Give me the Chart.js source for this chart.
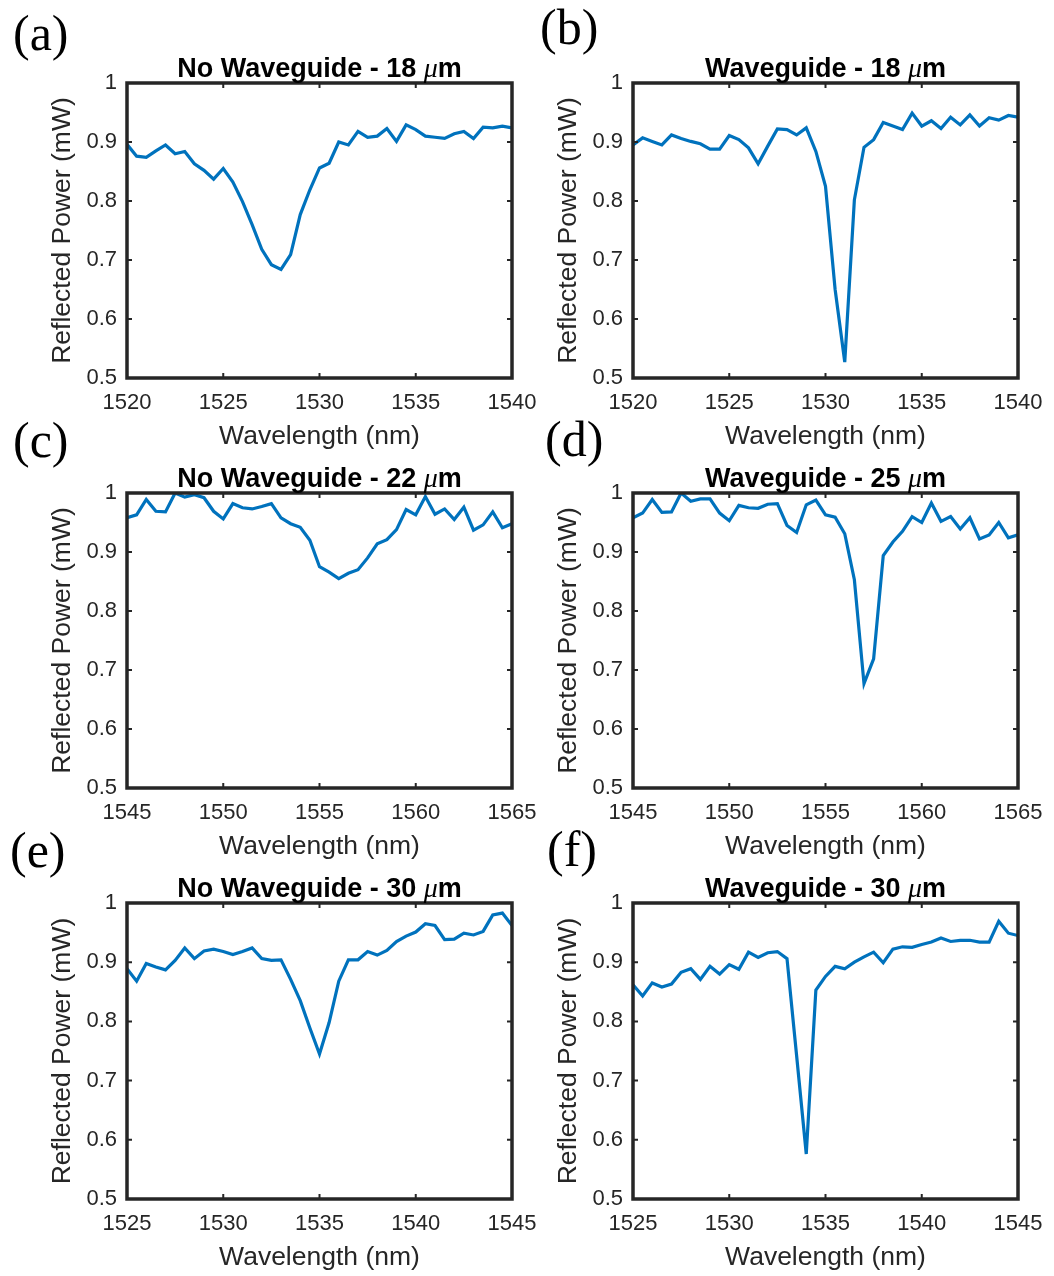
<!DOCTYPE html>
<html>
<head>
<meta charset="utf-8">
<script src="https://cdn.jsdelivr.net/npm/chart.js@4.4.0/dist/chart.umd.min.js"></script>
<style>
  html, body { margin: 0; padding: 0; background: #fff; width: 1054px; height: 1276px; overflow: hidden; }
  body { position: relative; }
  canvas { position: absolute; }
</style>
</head>
<body>
<script>
// Wavelength grids (nm), 0.5 nm steps
const wl1520 = [1520,1520.5,1521,1521.5,1522,1522.5,1523,1523.5,1524,1524.5,1525,1525.5,1526,1526.5,1527,1527.5,1528,1528.5,1529,1529.5,1530,1530.5,1531,1531.5,1532,1532.5,1533,1533.5,1534,1534.5,1535,1535.5,1536,1536.5,1537,1537.5,1538,1538.5,1539,1539.5,1540];
const wl1545 = [1545,1545.5,1546,1546.5,1547,1547.5,1548,1548.5,1549,1549.5,1550,1550.5,1551,1551.5,1552,1552.5,1553,1553.5,1554,1554.5,1555,1555.5,1556,1556.5,1557,1557.5,1558,1558.5,1559,1559.5,1560,1560.5,1561,1561.5,1562,1562.5,1563,1563.5,1564,1564.5,1565];
const wl1525 = [1525,1525.5,1526,1526.5,1527,1527.5,1528,1528.5,1529,1529.5,1530,1530.5,1531,1531.5,1532,1532.5,1533,1533.5,1534,1534.5,1535,1535.5,1536,1536.5,1537,1537.5,1538,1538.5,1539,1539.5,1540,1540.5,1541,1541.5,1542,1542.5,1543,1543.5,1544,1544.5,1545];

// Reflected power (mW)
const noWg18 = [0.896,0.876,0.874,0.885,0.895,0.880,0.884,0.863,0.852,0.837,0.855,0.832,0.799,0.760,0.718,0.692,0.684,0.709,0.777,0.819,0.856,0.864,0.900,0.895,0.918,0.908,0.910,0.923,0.901,0.929,0.921,0.910,0.908,0.906,0.914,0.918,0.906,0.925,0.924,0.927,0.924];
const wg18   = [0.895,0.907,0.901,0.895,0.912,0.906,0.901,0.897,0.888,0.888,0.911,0.904,0.890,0.863,0.893,0.922,0.921,0.912,0.924,0.884,0.825,0.650,0.527,0.802,0.891,0.904,0.933,0.927,0.921,0.949,0.927,0.936,0.923,0.942,0.929,0.946,0.927,0.941,0.937,0.945,0.942];
const noWg22 = [0.958,0.963,0.989,0.969,0.968,1.000,0.993,0.997,0.992,0.969,0.956,0.982,0.975,0.973,0.977,0.982,0.958,0.948,0.942,0.920,0.875,0.866,0.855,0.864,0.870,0.890,0.914,0.921,0.938,0.972,0.963,0.994,0.964,0.973,0.955,0.976,0.937,0.946,0.968,0.941,0.948];
const wg25   = [0.958,0.966,0.989,0.967,0.968,1.000,0.986,0.990,0.990,0.966,0.953,0.979,0.975,0.974,0.981,0.982,0.945,0.933,0.980,0.988,0.963,0.959,0.931,0.853,0.677,0.719,0.894,0.917,0.935,0.960,0.950,0.983,0.952,0.960,0.939,0.958,0.922,0.929,0.950,0.924,0.929];
const noWg30 = [0.889,0.868,0.898,0.892,0.887,0.903,0.924,0.906,0.919,0.922,0.918,0.913,0.918,0.924,0.906,0.903,0.904,0.871,0.835,0.789,0.745,0.798,0.868,0.904,0.904,0.918,0.912,0.920,0.935,0.944,0.951,0.965,0.962,0.938,0.939,0.949,0.946,0.952,0.980,0.983,0.962];
const wg30   = [0.862,0.843,0.865,0.858,0.863,0.883,0.889,0.871,0.893,0.880,0.896,0.888,0.917,0.908,0.916,0.918,0.906,0.742,0.576,0.853,0.876,0.893,0.889,0.900,0.909,0.917,0.899,0.922,0.926,0.925,0.930,0.934,0.941,0.935,0.937,0.937,0.934,0.934,0.969,0.949,0.945];

// Tick values and labels
const xTicks1520 = [1520,1525,1530,1535,1540];
const xTicks1545 = [1545,1550,1555,1560,1565];
const xTicks1525 = [1525,1530,1535,1540,1545];
const yTicks = [0.5,0.6,0.7,0.8,0.9,1];
const yTickLabels = ['0.5','0.6','0.7','0.8','0.9','1'];

// Text
const panelLabels = ['(a)','(b)','(c)','(d)','(e)','(f)'];
const panelTitles = ['No Waveguide - 18 ','Waveguide - 18 ','No Waveguide - 22 ','Waveguide - 25 ','No Waveguide - 30 ','Waveguide - 30 '];
const xTitle = 'Wavelength (nm)';
const yTitle = 'Reflected Power (mW)';

const INK = '#262626';
const SANS = "'Liberation Sans', Arial, Helvetica, sans-serif";
const SERIF = "'Liberation Serif', 'Times New Roman', serif";

// Page geometry of each plotting box
const COLS = [
  { L: 127, R: 512, cx: 0, cw: 545, labelX: [13, 13, 10] },
  { L: 633, R: 1018, cx: 527, cw: 527, labelX: [540, 545, 547] }
];
const ROWS = [
  { T: 83, B: 378, labelY: [50, 44] },
  { T: 493, B: 788, labelY: [457, 456] },
  { T: 903, B: 1199, labelY: [867, 866] }
];
const X_SCALE_H = 76;

const panels = [
  { xs: wl1520, ys: noWg18, xt: xTicks1520 },
  { xs: wl1520, ys: wg18,   xt: xTicks1520 },
  { xs: wl1545, ys: noWg22, xt: xTicks1545 },
  { xs: wl1545, ys: wg25,   xt: xTicks1545 },
  { xs: wl1525, ys: noWg30, xt: xTicks1525 },
  { xs: wl1525, ys: wg30,   xt: xTicks1525 }
];

// Box with inward ticks on all four sides, title and panel letter
const framePlugin = {
  id: 'frame',
  afterDatasetsDraw(chart, args, opts) {
    const { ctx, chartArea } = chart;
    const { left, top, right, bottom } = chartArea;
    const xs = chart.scales.x, ys = chart.scales.y;
    ctx.save();
    ctx.strokeStyle = INK;
    ctx.lineWidth = 2;
    ctx.beginPath();
    xs.ticks.forEach(t => {
      const px = xs.getPixelForValue(t.value);
      ctx.moveTo(px, bottom); ctx.lineTo(px, bottom - 5);
      ctx.moveTo(px, top); ctx.lineTo(px, top + 5);
    });
    ys.ticks.forEach(t => {
      const py = ys.getPixelForValue(t.value);
      ctx.moveTo(left, py); ctx.lineTo(left + 5, py);
      ctx.moveTo(right, py); ctx.lineTo(right - 5, py);
    });
    ctx.stroke();
    ctx.lineWidth = 3.5;
    ctx.strokeRect(left, top, right - left, bottom - top);

    // title: text, italic mu, m
    const parts = [
      { t: opts.title, f: `bold 27px ${SANS}` },
      { t: '\u03BC', f: `italic 28px ${SERIF}` },
      { t: 'm', f: `bold 27px ${SANS}` }
    ];
    let total = 0;
    parts.forEach(p => { ctx.font = p.f; p.w = ctx.measureText(p.t).width; total += p.w; });
    let x = (left + right) / 2 - total / 2;
    ctx.fillStyle = '#000';
    ctx.textBaseline = 'alphabetic';
    ctx.textAlign = 'left';
    parts.forEach(p => { ctx.font = p.f; ctx.fillText(p.t, x, top - 6); x += p.w; });

    // panel letter
    ctx.font = `50px ${SERIF}`;
    ctx.fillText(opts.label, opts.lx, opts.ly);
    ctx.restore();
  }
};

panels.forEach((p, i) => {
  const col = COLS[i % 2], row = ROWS[Math.floor(i / 2)];
  const cy = row.T - 83;
  const ch = (row.B - cy) + X_SCALE_H;
  const canvas = document.createElement('canvas');
  canvas.width = col.cw; canvas.height = ch;
  canvas.style.left = col.cx + 'px'; canvas.style.top = cy + 'px';
  canvas.style.width = col.cw + 'px'; canvas.style.height = ch + 'px';
  document.body.appendChild(canvas);

  const tickFont = { family: SANS, size: 22 };
  const titleFont = { family: SANS, size: 26.5 };

  new Chart(canvas, {
    type: 'line',
    data: {
      datasets: [{
        data: p.xs.map((w, k) => ({ x: w, y: p.ys[k] })),
        borderColor: '#0072BD',
        borderWidth: 3.2,
        pointRadius: 0,
        tension: 0,
        fill: false
      }]
    },
    options: {
      responsive: false,
      animation: false,
      devicePixelRatio: 1,
      layout: { padding: { left: 0, top: row.T - cy, right: col.cx + col.cw - col.R, bottom: 0 } },
      plugins: {
        legend: { display: false },
        tooltip: { enabled: false },
        title: { display: false },
        frame: {
          title: panelTitles[i],
          label: panelLabels[i],
          lx: col.labelX[Math.floor(i / 2)] - col.cx,
          ly: row.labelY[i % 2] - cy
        }
      },
      scales: {
        x: {
          type: 'linear',
          min: p.xt[0],
          max: p.xt[p.xt.length - 1],
          grid: { display: false, drawTicks: false },
          border: { display: false },
          afterBuildTicks: s => { s.ticks = p.xt.map(v => ({ value: v })); },
          afterFit: s => { s.height = X_SCALE_H; s.paddingLeft = 0; s.paddingRight = 0; },
          ticks: {
            autoSkip: false, maxRotation: 0, minRotation: 0, padding: 12,
            color: INK, font: tickFont,
            callback: (v) => String(v)
          },
          title: { display: true, text: xTitle, color: INK, font: titleFont, padding: 1 }
        },
        y: {
          type: 'linear',
          min: 0.5,
          max: 1,
          grid: { display: false, drawTicks: false },
          border: { display: false },
          afterBuildTicks: s => { s.ticks = yTicks.map(v => ({ value: v })); },
          afterFit: s => { s.width = col.L - col.cx; s.paddingTop = 0; s.paddingBottom = 0; },
          ticks: {
            padding: 10, color: INK, font: tickFont,
            callback: (v, idx) => yTickLabels[idx]
          },
          title: { display: true, text: yTitle, color: INK, font: titleFont, padding: (col.L - 64 - col.cx) - 15.9 }
        }
      }
    },
    plugins: [framePlugin]
  });
});
</script>
</body>
</html>
